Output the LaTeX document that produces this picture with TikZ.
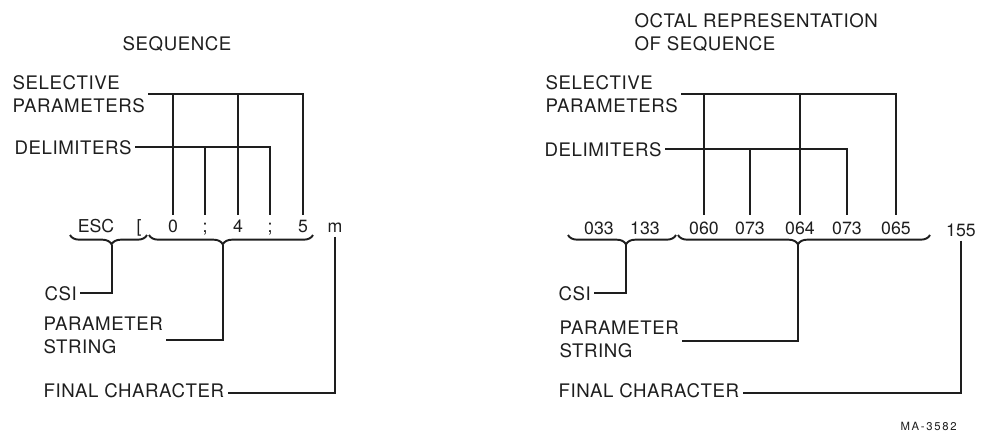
\documentclass[tikz,border=0pt]{standalone}
\usepackage{fontspec}
\setmainfont{TeX Gyre Heros}[LetterSpace=3]
\newfontfamily\chfont{TeX Gyre Heros}
\newfontfamily\tagfont{TeX Gyre Heros}[LetterSpace=15]
\definecolor{encre}{RGB}{30,30,30}
\usetikzlibrary{decorations.pathreplacing,calc}

\begin{document}
\begin{tikzpicture}[x=0.75pt,y=-0.75pt,encre,font=\fontsize{14}{17.25}\selectfont,
	lbl/.style={inner xsep=2.5pt,inner ysep=0pt,align=left,anchor=north west},
	ch/.style={inner sep=0pt,anchor=base,font=\chfont\fontsize{13.3}{16}\selectfont},
	ln/.style={line width=1.45pt},
	brc/.style={line width=1.45pt,decorate,decoration={brace,mirror,amplitude=7pt,aspect=#1}}]
	\useasboundingbox (0,0) rectangle (993,432);
	\coordinate (top) at (0,215);
	
	% sequence
	\node[inner sep=0pt,anchor=north] (seqT) at (177,36) {SEQUENCE};
	\node[lbl] (selL) at (9,75) {SELECTIVE\\PARAMETERS};
	\node[lbl] (delL) at (11,140) {DELIMITERS};
	\node[lbl] (csiL) at (41,286) {CSI};
	\node[lbl] (parL) at (40,317) {PARAMETER\\STRING};
	\node[lbl] (finL) at (40,383) {FINAL CHARACTER};
	
	\node[ch] (esc) at (96,232) {ESC};
	\node[ch] (csb) at (139,232) {[};
	\node[ch] (p0) at (173,232) {0};
	\node[ch] (d1) at (205,232) {;};
	\node[ch] (p4) at (238,232) {4};
	\node[ch] (d2) at (270,232) {;};
	\node[ch] (p5) at (303,232) {5};
	\node[ch] (fm) at (335,232) {m};
	
	\draw[ln] (selL.east) -| (p5 |- top);
	\draw[ln] (p0 |- selL.east) -- (p0 |- top);
	\draw[ln] (p4 |- selL.east) -- (p4 |- top);
	\draw[ln] (delL.east) -| (d2 |- top);
	\draw[ln] (d1 |- delL.east) -- (d1 |- top);
	
	\draw[brc=0.54] (70,235) coordinate (b1a) -- (147,235) coordinate (b1b);
	\draw[brc=0.45] (149,235) coordinate (b2a) -- (313,235) coordinate (b2b);
	\coordinate (b1t) at ($(b1a)!0.54!(b1b)+(0,10)$);
	\coordinate (b2t) at ($(b2a)!0.45!(b2b)+(0,10)$);
	\draw[ln] (b1t) |- (csiL.east);
	\draw[ln] (b2t) |- ([yshift=-3pt]parL.east);
	\draw[ln] ([yshift=-3.5pt]fm.south) |- ([yshift=-2pt]finL.east);
	
	% octal
	\node[lbl] (octT) at (631,13) {OCTAL REPRESENTATION\\OF SEQUENCE};
	\node[lbl] (selR) at (542,75) {SELECTIVE\\PARAMETERS};
	\node[lbl] (delR) at (541,142) {DELIMITERS};
	\node[lbl] (csiR) at (555,286) {CSI};
	\node[lbl] (parR) at (556,321) {PARAMETER\\STRING};
	\node[lbl] (finR) at (555,383) {FINAL CHARACTER};
	\node[lbl,font=\tagfont\fontsize{8.5}{10}\selectfont] (maR) at (897,422) {MA-3582};
	
	\node[ch] (o1) at (599,234) {033};
	\node[ch] (o2) at (645,234) {133};
	\node[ch] (o3) at (704,234) {060};
	\node[ch] (o4) at (750,234) {073};
	\node[ch] (o5) at (800,234) {064};
	\node[ch] (o6) at (847,234) {073};
	\node[ch] (o7) at (896,234) {065};
	\node[ch] (o8) at (961,236) {155};
	
	\draw[ln] (selR.east) -| (o7 |- top);
	\draw[ln] (o3 |- selR.east) -- (o3 |- top);
	\draw[ln] (o5 |- selR.east) -- (o5 |- top);
	\draw[ln] (delR.east) -| (o6 |- top);
	\draw[ln] (o4 |- delR.east) -- (o4 |- top);
	
	\draw[brc=0.537] (568,235) coordinate (b3a) -- (676,235) coordinate (b3b);
	\draw[brc=0.476] (678,235) coordinate (b4a) -- (930,235) coordinate (b4b);
	\coordinate (b3t) at ($(b3a)!0.537!(b3b)+(0,10)$);
	\coordinate (b4t) at ($(b4a)!0.476!(b4b)+(0,10)$);
	\draw[ln] (b3t) |- (csiR.east);
	\draw[ln] (b4t) |- ([yshift=-1pt]parR.east);
	\draw[ln] ([yshift=-3pt]o8.south) |- ([yshift=-2pt]finR.east);
\end{tikzpicture}
\end{document}
